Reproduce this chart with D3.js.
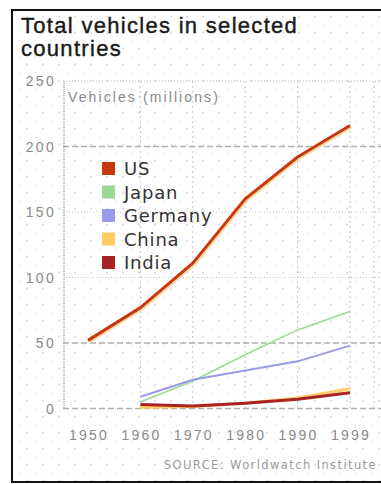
<!DOCTYPE html>
<html>
<head>
<meta charset="utf-8">
<script src="https://cdn.jsdelivr.net/npm/d3@7"></script>
<style>
  html, body { margin: 0; padding: 0; background: #fff; }
  svg { display: block; }
</style>
</head>
<body>
<svg id="chart" width="381" height="484"></svg>
<script>
const years = ["1950", "1960", "1970", "1980", "1990", "1999"];
const yTicks = [0, 50, 100, 150, 200, 250];
const seriesNames = ["US", "Japan", "Germany", "China", "India"];
const seriesColors = ["#c8380e", "#9bd896", "#9a9ae8", "#ffcc66", "#a82424"];
const usValues = [52, 77, 111, 160, 192, 216];
const japanValues = [null, 5, 21, 41, 60, 74];
const germanyValues = [null, 9, 22, 29, 36, 48];
const chinaValues = [null, 1, 1.5, 4, 8, 15];
const indiaValues = [null, 3, 2, 4, 7, 12];
const title = ["Total vehicles in selected", "countries"];
const yLabel = "Vehicles (millions)";
const source = "SOURCE: Worldwatch Institute";

const svg = d3.select("#chart");
const defs = svg.append("defs");
const pat = defs.append("pattern").attr("id", "dots").attr("patternUnits", "userSpaceOnUse")
  .attr("width", 16).attr("height", 16).attr("x", 3).attr("y", 8.5);
pat.append("rect").attr("x", -0.6).attr("y", -0.6).attr("width", 1.6).attr("height", 1.6).attr("fill", "#cfcfcf");
pat.append("rect").attr("x", 7.4).attr("y", 7.4).attr("width", 1.6).attr("height", 1.6).attr("fill", "#cfcfcf");

svg.append("rect").attr("width", 381).attr("height", 484).attr("fill", "#fff");
svg.append("rect").attr("x", 12).attr("y", 10).attr("width", 381).attr("height", 472).attr("fill", "url(#dots)");
svg.append("path").attr("d", "M381,10 H12 V482 H381").attr("fill", "none").attr("stroke", "#111").attr("stroke-width", 2);

const x = d3.scalePoint().domain(years).range([88, 350]);
const y = d3.scaleLinear().domain([0, 250]).range([408.5, 81]);

const frame = svg.append("g").attr("stroke", "#b8b8b8").attr("fill", "none");
frame.append("line").attr("x1", 63).attr("x2", 381).attr("y1", y(250)).attr("y2", y(250)).attr("stroke-dasharray", "1,2");
frame.append("line").attr("x1", 64).attr("x2", 64).attr("y1", y(250)).attr("y2", y(0)).attr("stroke-dasharray", "1,1").attr("stroke-width", 2);

const strong = d => d === 0 || d === 50 || d === 200;
svg.append("g").selectAll("line").data(yTicks.filter(d => d !== 250)).join("line")
  .attr("x1", 63).attr("x2", 381).attr("y1", d => y(d)).attr("y2", d => y(d))
  .attr("stroke", d => strong(d) ? "#b0b0b0" : "#c4c4c4")
  .attr("stroke-dasharray", d => strong(d) ? "6,3" : "1,2")
  .attr("stroke-width", d => strong(d) ? 1.5 : 1);

svg.append("g").selectAll("line").data(years.slice(1).concat(["__end"])).join("line")
  .attr("x1", d => d === "__end" ? 374 : x(d)).attr("x2", d => d === "__end" ? 374 : x(d))
  .attr("y1", y(250)).attr("y2", y(0))
  .attr("stroke", "#c4c4c4").attr("stroke-dasharray", "2,3");

svg.append("g").selectAll("text").data(yTicks).join("text")
  .attr("x", 56).attr("y", d => y(d) + 5)
  .attr("text-anchor", "end").attr("fill", "#8a8a8a")
  .attr("font-family", "Liberation Sans, Arial, sans-serif").attr("font-size", 14)
  .attr("letter-spacing", 2.3)
  .text(d => d);

svg.append("g").selectAll("text").data(years).join("text")
  .attr("x", d => x(d) + 1).attr("y", 440)
  .attr("text-anchor", "middle").attr("fill", "#8a8a8a")
  .attr("font-family", "Liberation Sans, Arial, sans-serif").attr("font-size", 14)
  .attr("letter-spacing", 2.2)
  .text(d => d);

svg.append("g").selectAll("text").data(title).join("text")
  .attr("x", 21).attr("y", (d, i) => 33 + i * 23)
  .attr("fill", "#1a1a1a").attr("stroke", "#1a1a1a").attr("stroke-width", 0.4)
  .attr("font-family", "Liberation Sans, Arial, sans-serif").attr("font-size", 22)
  .attr("letter-spacing", 1.3)
  .text(d => d);

svg.append("text").attr("x", 68).attr("y", 102)
  .attr("fill", "#8a8a8a").attr("font-family", "Liberation Sans, Arial, sans-serif").attr("font-size", 14)
  .attr("letter-spacing", 2.1)
  .text(yLabel);

const allValues = [usValues, japanValues, germanyValues, chinaValues, indiaValues];
const widths = [3, 1.6, 2, 3, 3];
const drawOrder = [1, 2, 3, 4, 0];
const line = d3.line().defined(d => d.v !== null).x(d => x(d.year)).y(d => y(d.v));
drawOrder.forEach(i => {
  const data = years.map((yr, j) => ({ year: yr, v: allValues[i][j] }));
  if (i === 0) {
    svg.append("path").datum(data).attr("d", line).attr("fill", "none")
      .attr("stroke", "#f6d9a0").attr("stroke-width", 4).attr("stroke-linejoin", "round").attr("transform", "translate(1,1)");
  }
  svg.append("path").datum(data).attr("d", line).attr("fill", "none")
    .attr("stroke", seriesColors[i]).attr("stroke-width", widths[i]).attr("stroke-linejoin", "round");
});

const legend = svg.append("g");
seriesNames.forEach((name, i) => {
  const cy = 168 + i * 23.5;
  legend.append("rect").attr("x", 102).attr("y", cy - 6).attr("width", 13).attr("height", 13).attr("fill", seriesColors[i]);
  legend.append("text").attr("x", 124).attr("y", cy + 7)
    .attr("fill", "#333").attr("font-family", "DejaVu Sans, Verdana, sans-serif").attr("font-size", 18)
    .attr("letter-spacing", 0.8).text(name);
});

svg.append("text").attr("x", 377).attr("y", 469).attr("text-anchor", "end")
  .attr("fill", "#9a9a9a").attr("font-family", "DejaVu Sans, Verdana, sans-serif").attr("font-size", 11.5)
  .attr("letter-spacing", 1.4).text(source);
</script>
</body>
</html>
